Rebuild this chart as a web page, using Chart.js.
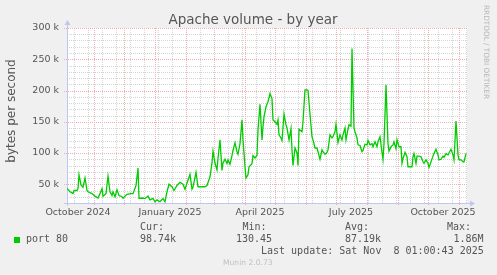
<!DOCTYPE html>
<html>
<head>
<meta charset="utf-8">
<script src="https://cdn.jsdelivr.net/npm/chart.js@4"></script>
<style>
  html, body { margin: 0; padding: 0; background: #f0f0f0; }
  canvas { display: block; }
</style>
</head>
<body>
<canvas id="volumeChart" width="497" height="275"></canvas>
<script>
// days counted from 1 Oct 2024
const days = [4,7,10,11,14,15,16,18,20,22,24,25,29,32,35,37,39,40,43,45,47,49,50,52,54,56,59,60,64,68,70,73,75,76,79,82,85,87,90,92,94,97,100,102,104,106,109,111,114,117,120,122,124,127,129,130,133,135,139,142,144,147,149,150,152,154,155,157,159,160,162,164,165,167,169,170,172,174,175,177,179,180,182,183,185,186,189,190,192,194,195,197,199,200,201,203,205,207,209,210,212,214,215,216,218,219,221,223,224,226,228,229,230,232,234,235,236,239,240,242,244,245,247,249,250,252,254,255,257,259,260,262,264,265,267,269,270,272,273,275,277,279,280,282,283,285,286,288,289,291,292,294,295,297,299,300,302,304,305,307,309,310,312,314,315,317,319,320,321,323,325,326,328,330,331,333,334,336,338,339,340,342,344,345,347,349,350,351,353,354,356,358,360,361,363,365,366,368,370,371,373,375,376,378,380,381,383,385,386,388,390,391,393,395,396,398,400,401,403];

// port 80, kilobytes per second
const port80 = [43.5,38,35,40,40,43,65,49,45,60,40,38,35,31,28,35,43,31,35,63,38,32,38,30,41,32,30,27.5,34,35,35,48,76,27.5,28,27,31,25,27.5,22,25,22,27,22,38,50,46,40,48,53,50,42,52,66,42,45,69,46,46,46,48,62,84.5,103,84,73,91.5,121,72,84,90,83,89,82,96,104,116.5,102,98,115,153,121,78,60,65,78,83,96,92,96,137,178,121,142,158,174,182,195,187,153,150,146,153,129,124,120,162,145,140,121,139,105,80,108,100,80,138,134,150,201,201,200,162,126,121,108,108,102,90,105,102,98,101,105,129,124,126,134,146,116.5,129,121,129,140,121,138,145,143,267,140,134,124,113,112,102,104,114,113,120,113,115,110,118,110,118,126,101,90,115,209,115,103,110,113,118,107,121,110,110,83.5,91,101,94,78,78,78,94,99,83.5,95,95,94,86,83.5,89,83.5,77,86,95,99,106,97,89,90,95,93,99,97,100,106,97,89,151,97,89,89,86,86,99];

const xLabels = ['October 2024', 'January 2025', 'April 2025', 'July 2025', 'October 2025'];
const xLabelDays = [15, 107, 197, 288, 380];
const monthStarts = [0, 31, 61, 92, 123, 151, 182, 212, 243, 273, 304, 335, 365, 396];
const yTicks = [50000, 100000, 150000, 200000, 250000, 300000];

const dayMin = 4;
const dayMax = 404;
const yMin = 20000;
const yMax = 300000;

const textColor = '#555555';
const minorGrid = '#d4d4d4';
const majorGrid = '#eeb0b0';
const axisColor = '#c0c6f2';

// background, grid and axes the way rrdtool draws them
const muninFrame = {
  id: 'muninFrame',
  beforeDraw(chart) {
    const { ctx, chartArea: a } = chart;
    ctx.save();
    ctx.fillStyle = '#f0f0f0';
    ctx.fillRect(0, 0, chart.width, chart.height);
    ctx.fillStyle = '#ffffff';
    ctx.fillRect(a.left, a.top, a.right - a.left, a.bottom - a.top);
    ctx.restore();
  },
  beforeDatasetsDraw(chart) {
    const { ctx, chartArea: a, scales } = chart;
    const x = scales.x, y = scales.y;
    const line = (x1, y1, x2, y2) => {
      ctx.beginPath();
      ctx.moveTo(x1, y1);
      ctx.lineTo(x2, y2);
      ctx.stroke();
    };
    ctx.save();
    ctx.lineWidth = 1;
    ctx.setLineDash([1, 1]);

    // minor grid: every 14 days, every 10k
    ctx.strokeStyle = minorGrid;
    for (let d = 11; d < dayMax; d += 14) {
      const px = Math.round(x.getPixelForValue(d)) + 0.5;
      line(px, a.top, px, a.bottom);
    }
    for (let v = yMin + 10000; v < yMax; v += 10000) {
      if (v % 50000 === 0) continue;
      const py = Math.round(y.getPixelForValue(v)) + 0.5;
      line(a.left, py, a.right, py);
    }

    // major grid: month starts, every 50k
    ctx.strokeStyle = majorGrid;
    monthStarts.forEach(d => {
      if (d < dayMin || d > dayMax) return;
      const px = Math.round(x.getPixelForValue(d)) + 0.5;
      line(px, a.top, px, a.bottom + 3);
    });
    yTicks.forEach(v => {
      const py = Math.round(y.getPixelForValue(v)) + 0.5;
      line(a.left - 3, py, a.right, py);
    });

    // axes with arrows
    ctx.setLineDash([]);
    ctx.strokeStyle = axisColor;
    ctx.fillStyle = axisColor;
    const ax = Math.round(a.left) + 0.5;
    const ay = Math.round(a.bottom) + 0.5;
    line(ax, a.bottom + 3, ax, a.top - 4);
    line(a.left - 3, ay, a.right + 4, ay);
    ctx.beginPath();
    ctx.moveTo(ax - 3, a.top - 3);
    ctx.lineTo(ax + 3, a.top - 3);
    ctx.lineTo(ax, a.top - 8);
    ctx.closePath();
    ctx.fill();
    ctx.beginPath();
    ctx.moveTo(a.right + 3, ay - 3);
    ctx.lineTo(a.right + 3, ay + 3);
    ctx.lineTo(a.right + 8, ay);
    ctx.closePath();
    ctx.fill();
    ctx.restore();
  },
  afterDraw(chart) {
    const ctx = chart.ctx;
    ctx.save();
    ctx.fillStyle = textColor;

    // title
    ctx.font = '13.5px "DejaVu Sans"';
    ctx.textAlign = 'center';
    ctx.textBaseline = 'alphabetic';
    ctx.fillText('Apache volume - by year', 253, 24);

    // vertical axis title
    ctx.save();
    ctx.translate(12, 111);
    ctx.rotate(-Math.PI / 2);
    ctx.font = '12px "DejaVu Sans"';
    ctx.textBaseline = 'middle';
    ctx.fillText('bytes per second', 0, 0);
    ctx.restore();

    // watermark
    ctx.save();
    ctx.translate(486, 5);
    ctx.rotate(Math.PI / 2);
    ctx.font = '7.3px "DejaVu Sans"';
    ctx.fillStyle = '#b8b8b8';
    ctx.textAlign = 'left';
    ctx.textBaseline = 'middle';
    ctx.fillText('RRDTOOL / TOBI OETIKER', 0, 0);
    ctx.restore();

    // legend
    ctx.fillStyle = '#00cc00';
    ctx.fillRect(14, 237, 6, 6);
    ctx.fillStyle = textColor;
    ctx.font = '10px "DejaVu Sans Mono"';
    ctx.textAlign = 'left';
    ctx.textBaseline = 'middle';
    ctx.fillText('Cur:', 140, 227.5);
    ctx.fillText('Min:', 242.5, 227.5);
    ctx.fillText('Avg:', 345, 227.5);
    ctx.fillText('Max:', 447, 227.5);
    ctx.fillText('port 80', 26, 239.5);
    ctx.fillText('98.74k', 140, 239.5);
    ctx.fillText('130.45', 236, 239.5);
    ctx.fillText('87.19k', 345, 239.5);
    ctx.fillText('1.86M', 453.5, 239.5);
    ctx.fillText('Last update: Sat Nov  8 01:00:43 2025', 261, 251.5);

    ctx.font = '7.6px "DejaVu Sans"';
    ctx.fillStyle = '#c0c0c0';
    ctx.fillText('Munin 2.0.73', 223, 263.5);
    ctx.restore();
  }
};

const points = days.map((d, i) => ({ x: d, y: port80[i] * 1000 }));

new Chart(document.getElementById('volumeChart'), {
  type: 'line',
  data: {
    datasets: [{
      label: 'port 80',
      data: points,
      borderColor: '#00cc00',
      borderWidth: 1.3,
      pointRadius: 0,
      tension: 0,
      fill: false
    }]
  },
  options: {
    responsive: false,
    animation: false,
    devicePixelRatio: 1,
    layout: { padding: { top: 28, right: 30, left: 0, bottom: 0 } },
    plugins: {
      legend: { display: false },
      tooltip: { enabled: false },
      title: { display: false }
    },
    scales: {
      x: {
        type: 'linear',
        min: dayMin,
        max: dayMax,
        afterFit: s => { s.height = 72; },
        afterBuildTicks: s => { s.ticks = xLabelDays.map(v => ({ value: v })); },
        grid: { display: false, drawTicks: false },
        border: { display: false },
        ticks: {
          autoSkip: false,
          maxRotation: 0,
          padding: 4,
          color: textColor,
          font: { family: 'DejaVu Sans', size: 9.5 },
          callback: (value, index) => xLabels[index]
        }
      },
      y: {
        min: yMin,
        max: yMax,
        afterFit: s => { s.width = 67; },
        afterBuildTicks: s => { s.ticks = yTicks.map(v => ({ value: v })); },
        grid: { display: false, drawTicks: false },
        border: { display: false },
        ticks: {
          padding: 8,
          color: textColor,
          font: { family: 'DejaVu Sans', size: 9.5 },
          callback: v => (v / 1000) + ' k'
        }
      }
    }
  },
  plugins: [muninFrame]
});
</script>
</body>
</html>
